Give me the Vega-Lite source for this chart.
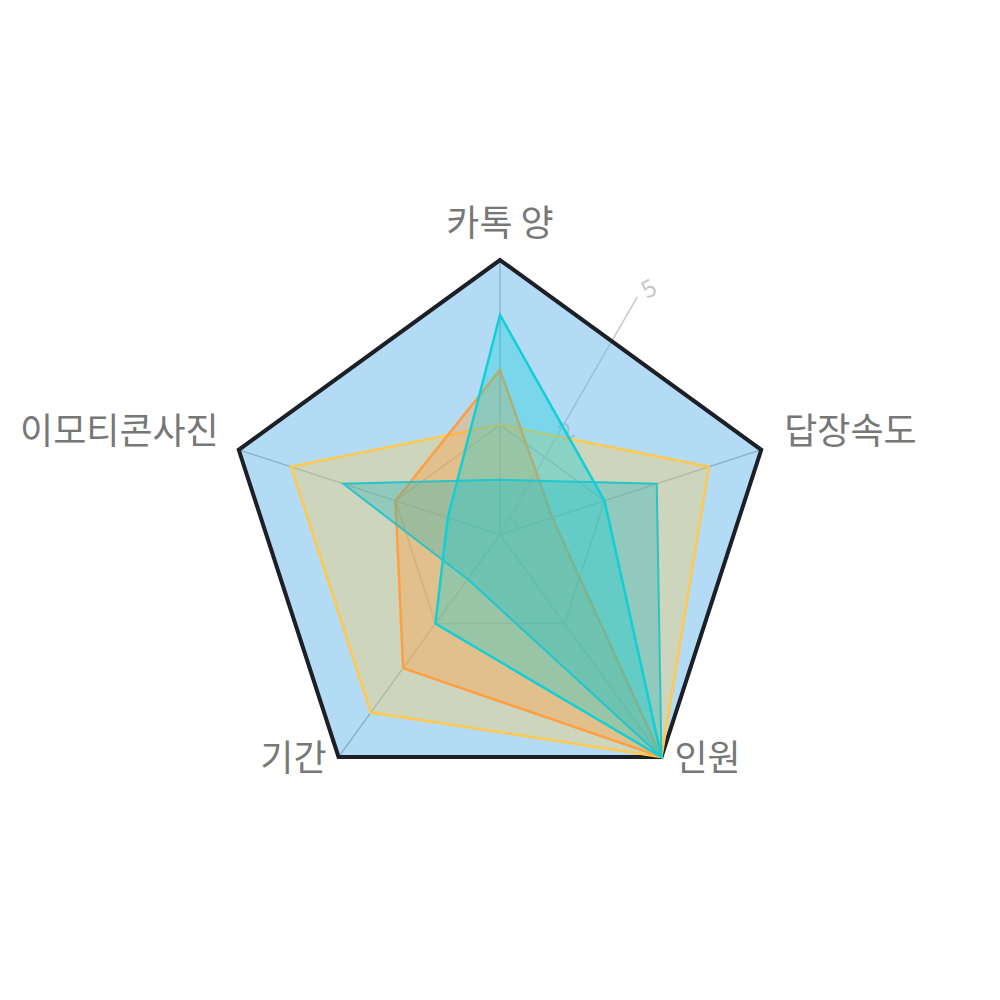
{
  "$schema": "https://vega.github.io/schema/vega-lite/v6.json",
  "width": 1000,
  "height": 1000,
  "autosize": {"type": "fit", "contains": "padding"},
  "padding": 0,
  "background": "white",
  "config": {"view": {"stroke": null}, "font": "Noto Sans CJK KR"},
  "datasets": {
    "series": [
      {"s": "A", "axis": "카톡 양", "i": 0, "v": 5},
      {"s": "A", "axis": "답장속도", "i": 1, "v": 5},
      {"s": "A", "axis": "인원", "i": 2, "v": 5},
      {"s": "A", "axis": "기간", "i": 3, "v": 5},
      {"s": "A", "axis": "이모티콘사진", "i": 4, "v": 5},
      {"s": "B", "axis": "카톡 양", "i": 0, "v": 2},
      {"s": "B", "axis": "답장속도", "i": 1, "v": 4},
      {"s": "B", "axis": "인원", "i": 2, "v": 5},
      {"s": "B", "axis": "기간", "i": 3, "v": 4},
      {"s": "B", "axis": "이모티콘사진", "i": 4, "v": 4},
      {"s": "C", "axis": "카톡 양", "i": 0, "v": 3},
      {"s": "C", "axis": "답장속도", "i": 1, "v": 1},
      {"s": "C", "axis": "인원", "i": 2, "v": 5},
      {"s": "C", "axis": "기간", "i": 3, "v": 3},
      {"s": "C", "axis": "이모티콘사진", "i": 4, "v": 2},
      {"s": "D", "axis": "카톡 양", "i": 0, "v": 1},
      {"s": "D", "axis": "답장속도", "i": 1, "v": 3},
      {"s": "D", "axis": "인원", "i": 2, "v": 5},
      {"s": "D", "axis": "기간", "i": 3, "v": 1},
      {"s": "D", "axis": "이모티콘사진", "i": 4, "v": 3},
      {"s": "E", "axis": "카톡 양", "i": 0, "v": 4},
      {"s": "E", "axis": "답장속도", "i": 1, "v": 2},
      {"s": "E", "axis": "인원", "i": 2, "v": 5},
      {"s": "E", "axis": "기간", "i": 3, "v": 2},
      {"s": "E", "axis": "이모티콘사진", "i": 4, "v": 1}
    ],
    "axes": [
      {"axis": "카톡 양", "i": 0},
      {"axis": "답장속도", "i": 1},
      {"axis": "인원", "i": 2},
      {"axis": "기간", "i": 3},
      {"axis": "이모티콘사진", "i": 4}
    ],
    "ticks": [
      {"t": 0, "label": "0"},
      {"t": 2, "label": "2"},
      {"t": 5, "label": "5"}
    ]
  },
  "layer": [
    {
      "data": {"name": "axes"},
      "transform": [
        {"calculate": "datum.i * 2 * PI / 5", "as": "a"},
        {"calculate": "5 * sin(datum.a)", "as": "ex"},
        {"calculate": "5 * cos(datum.a)", "as": "ey"},
        {"calculate": "0", "as": "o"}
      ],
      "mark": {"type": "rule", "stroke": "#b0b0b0", "strokeWidth": 1.5},
      "encoding": {
        "x": {"field": "o", "type": "quantitative", "scale": {"domain": [-9.101, 9.101], "nice": false, "zero": false}, "axis": null},
        "y": {"field": "o", "type": "quantitative", "scale": {"domain": [-8.469, 9.733], "nice": false, "zero": false}, "axis": null},
        "x2": {"field": "ex"},
        "y2": {"field": "ey"}
      }
    },
    {
      "data": {"name": "axes"},
      "transform": [
        {"calculate": "datum.i * 2 * PI / 5", "as": "a"},
        {"calculate": "2 * sin(datum.a)", "as": "gx"},
        {"calculate": "2 * cos(datum.a)", "as": "gy"}
      ],
      "mark": {"type": "line", "interpolate": "linear-closed", "stroke": "#b0b0b0", "strokeWidth": 1.5},
      "encoding": {
        "x": {"field": "gx", "type": "quantitative", "scale": {"domain": [-9.101, 9.101], "nice": false, "zero": false}, "axis": null},
        "y": {"field": "gy", "type": "quantitative", "scale": {"domain": [-8.469, 9.733], "nice": false, "zero": false}, "axis": null},
        "order": {"field": "i"}
      }
    },
    {
      "data": {"name": "ticks"},
      "transform": [
        {"filter": "datum.t == 5"},
        {"calculate": "datum.t * 0.5", "as": "rx"},
        {"calculate": "datum.t * 0.8660254", "as": "ry"},
        {"calculate": "0", "as": "o"}
      ],
      "mark": {"type": "rule", "stroke": "#c8c8c8", "strokeWidth": 1.5},
      "encoding": {
        "x": {"field": "o", "type": "quantitative", "scale": {"domain": [-9.101, 9.101], "nice": false, "zero": false}, "axis": null},
        "y": {"field": "o", "type": "quantitative", "scale": {"domain": [-8.469, 9.733], "nice": false, "zero": false}, "axis": null},
        "x2": {"field": "rx"},
        "y2": {"field": "ry"}
      }
    },
    {
      "data": {"name": "ticks"},
      "transform": [
        {"calculate": "datum.t * 0.5", "as": "rx"},
        {"calculate": "datum.t * 0.8660254", "as": "ry"}
      ],
      "mark": {"type": "text", "fill": "#c8c8c8", "fontSize": 24, "align": "center", "baseline": "middle", "dx": 14, "dy": 0, "angle": 330},
      "encoding": {
        "x": {"field": "rx", "type": "quantitative", "scale": {"domain": [-9.101, 9.101], "nice": false, "zero": false}, "axis": null},
        "y": {"field": "ry", "type": "quantitative", "scale": {"domain": [-8.469, 9.733], "nice": false, "zero": false}, "axis": null},
        "text": {"field": "label"}
      }
    },
    {
      "data": {"name": "series"},
      "transform": [
        {"filter": "datum.s == 'A'"},
        {"calculate": "datum.i * 2 * PI / 5", "as": "a"},
        {"calculate": "datum.v * sin(datum.a)", "as": "px"},
        {"calculate": "datum.v * cos(datum.a)", "as": "py"}
      ],
      "mark": {"type": "line", "interpolate": "linear-closed", "fill": "#67b7eb", "fillOpacity": 0.5, "stroke": "#1c1f26", "strokeWidth": 4, "strokeJoin": "miter"},
      "encoding": {
        "x": {"field": "px", "type": "quantitative", "scale": {"domain": [-9.101, 9.101], "nice": false, "zero": false}, "axis": null},
        "y": {"field": "py", "type": "quantitative", "scale": {"domain": [-8.469, 9.733], "nice": false, "zero": false}, "axis": null},
        "order": {"field": "i"}
      }
    },
    {
      "data": {"name": "series"},
      "transform": [
        {"filter": "datum.s == 'B'"},
        {"calculate": "datum.i * 2 * PI / 5", "as": "a"},
        {"calculate": "datum.v * sin(datum.a)", "as": "px"},
        {"calculate": "datum.v * cos(datum.a)", "as": "py"}
      ],
      "mark": {"type": "line", "interpolate": "linear-closed", "fill": "#feca57", "fillOpacity": 0.35, "stroke": "#ffc94f", "strokeWidth": 2.5},
      "encoding": {
        "x": {"field": "px", "type": "quantitative", "scale": {"domain": [-9.101, 9.101], "nice": false, "zero": false}, "axis": null},
        "y": {"field": "py", "type": "quantitative", "scale": {"domain": [-8.469, 9.733], "nice": false, "zero": false}, "axis": null},
        "order": {"field": "i"}
      }
    },
    {
      "data": {"name": "series"},
      "transform": [
        {"filter": "datum.s == 'C'"},
        {"calculate": "datum.i * 2 * PI / 5", "as": "a"},
        {"calculate": "datum.v * sin(datum.a)", "as": "px"},
        {"calculate": "datum.v * cos(datum.a)", "as": "py"}
      ],
      "mark": {"type": "line", "interpolate": "linear-closed", "fill": "#ff9f43", "fillOpacity": 0.4, "stroke": "#ff9f43", "strokeWidth": 2.5},
      "encoding": {
        "x": {"field": "px", "type": "quantitative", "scale": {"domain": [-9.101, 9.101], "nice": false, "zero": false}, "axis": null},
        "y": {"field": "py", "type": "quantitative", "scale": {"domain": [-8.469, 9.733], "nice": false, "zero": false}, "axis": null},
        "order": {"field": "i"}
      }
    },
    {
      "data": {"name": "series"},
      "transform": [
        {"filter": "datum.s == 'D'"},
        {"calculate": "datum.i * 2 * PI / 5", "as": "a"},
        {"calculate": "datum.v * sin(datum.a)", "as": "px"},
        {"calculate": "datum.v * cos(datum.a)", "as": "py"}
      ],
      "mark": {"type": "line", "interpolate": "linear-closed", "fill": "#22b4bb", "fillOpacity": 0.35, "stroke": "#2bc2c8", "strokeWidth": 2},
      "encoding": {
        "x": {"field": "px", "type": "quantitative", "scale": {"domain": [-9.101, 9.101], "nice": false, "zero": false}, "axis": null},
        "y": {"field": "py", "type": "quantitative", "scale": {"domain": [-8.469, 9.733], "nice": false, "zero": false}, "axis": null},
        "order": {"field": "i"}
      }
    },
    {
      "data": {"name": "series"},
      "transform": [
        {"filter": "datum.s == 'E'"},
        {"calculate": "datum.i * 2 * PI / 5", "as": "a"},
        {"calculate": "datum.v * sin(datum.a)", "as": "px"},
        {"calculate": "datum.v * cos(datum.a)", "as": "py"}
      ],
      "mark": {"type": "line", "interpolate": "linear-closed", "fill": "#12cfd6", "fillOpacity": 0.35, "stroke": "#12cfd6", "strokeWidth": 2.5},
      "encoding": {
        "x": {"field": "px", "type": "quantitative", "scale": {"domain": [-9.101, 9.101], "nice": false, "zero": false}, "axis": null},
        "y": {"field": "py", "type": "quantitative", "scale": {"domain": [-8.469, 9.733], "nice": false, "zero": false}, "axis": null},
        "order": {"field": "i"}
      }
    },
    {
      "data": {"name": "axes"},
      "transform": [
        {"filter": "datum.i == 0"},
        {"calculate": "datum.i * 2 * PI / 5", "as": "a"},
        {"calculate": "5 * sin(datum.a)", "as": "ex"},
        {"calculate": "5 * cos(datum.a)", "as": "ey"}
      ],
      "mark": {"type": "text", "fill": "#777777", "fontSize": 36, "align": "center", "baseline": "middle", "dy": -35},
      "encoding": {
        "x": {"field": "ex", "type": "quantitative", "scale": {"domain": [-9.101, 9.101], "nice": false, "zero": false}, "axis": null},
        "y": {"field": "ey", "type": "quantitative", "scale": {"domain": [-8.469, 9.733], "nice": false, "zero": false}, "axis": null},
        "text": {"field": "axis"}
      }
    },
    {
      "data": {"name": "axes"},
      "transform": [
        {"filter": "datum.i == 1"},
        {"calculate": "datum.i * 2 * PI / 5", "as": "a"},
        {"calculate": "5 * sin(datum.a)", "as": "ex"},
        {"calculate": "5 * cos(datum.a)", "as": "ey"}
      ],
      "mark": {"type": "text", "fill": "#777777", "fontSize": 36, "align": "left", "baseline": "middle", "dx": 23, "dy": -17},
      "encoding": {
        "x": {"field": "ex", "type": "quantitative", "scale": {"domain": [-9.101, 9.101], "nice": false, "zero": false}, "axis": null},
        "y": {"field": "ey", "type": "quantitative", "scale": {"domain": [-8.469, 9.733], "nice": false, "zero": false}, "axis": null},
        "text": {"field": "axis"}
      }
    },
    {
      "data": {"name": "axes"},
      "transform": [
        {"filter": "datum.i == 2"},
        {"calculate": "datum.i * 2 * PI / 5", "as": "a"},
        {"calculate": "5 * sin(datum.a)", "as": "ex"},
        {"calculate": "5 * cos(datum.a)", "as": "ey"}
      ],
      "mark": {"type": "text", "fill": "#777777", "fontSize": 36, "align": "left", "baseline": "middle", "dx": 13, "dy": 3},
      "encoding": {
        "x": {"field": "ex", "type": "quantitative", "scale": {"domain": [-9.101, 9.101], "nice": false, "zero": false}, "axis": null},
        "y": {"field": "ey", "type": "quantitative", "scale": {"domain": [-8.469, 9.733], "nice": false, "zero": false}, "axis": null},
        "text": {"field": "axis"}
      }
    },
    {
      "data": {"name": "axes"},
      "transform": [
        {"filter": "datum.i == 3"},
        {"calculate": "datum.i * 2 * PI / 5", "as": "a"},
        {"calculate": "5 * sin(datum.a)", "as": "ex"},
        {"calculate": "5 * cos(datum.a)", "as": "ey"}
      ],
      "mark": {"type": "text", "fill": "#777777", "fontSize": 36, "align": "right", "baseline": "middle", "dx": -12, "dy": 3},
      "encoding": {
        "x": {"field": "ex", "type": "quantitative", "scale": {"domain": [-9.101, 9.101], "nice": false, "zero": false}, "axis": null},
        "y": {"field": "ey", "type": "quantitative", "scale": {"domain": [-8.469, 9.733], "nice": false, "zero": false}, "axis": null},
        "text": {"field": "axis"}
      }
    },
    {
      "data": {"name": "axes"},
      "transform": [
        {"filter": "datum.i == 4"},
        {"calculate": "datum.i * 2 * PI / 5", "as": "a"},
        {"calculate": "5 * sin(datum.a)", "as": "ex"},
        {"calculate": "5 * cos(datum.a)", "as": "ey"}
      ],
      "mark": {"type": "text", "fill": "#777777", "fontSize": 36, "align": "right", "baseline": "middle", "dx": -20, "dy": -17},
      "encoding": {
        "x": {"field": "ex", "type": "quantitative", "scale": {"domain": [-9.101, 9.101], "nice": false, "zero": false}, "axis": null},
        "y": {"field": "ey", "type": "quantitative", "scale": {"domain": [-8.469, 9.733], "nice": false, "zero": false}, "axis": null},
        "text": {"field": "axis"}
      }
    }
  ]
}
